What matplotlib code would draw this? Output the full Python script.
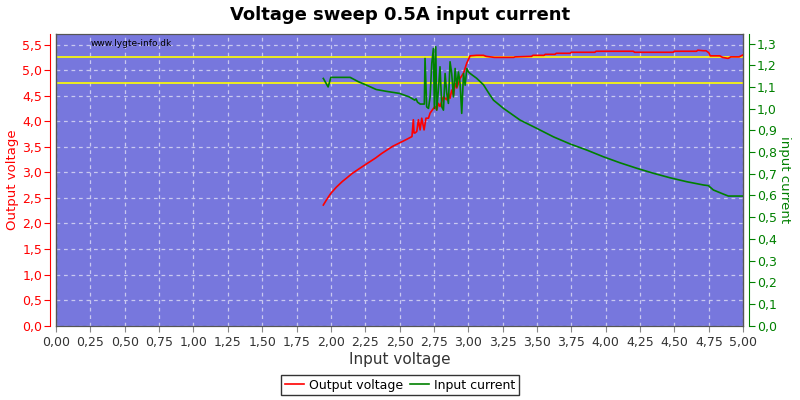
import numpy as np
import matplotlib
matplotlib.use("Agg")
import matplotlib.pyplot as plt
from matplotlib.ticker import FuncFormatter, MultipleLocator

# output voltage (left axis)
volt_x = [1.945, 1.97, 2.0, 2.04, 2.083, 2.12, 2.156, 2.2, 2.245, 2.285, 2.325, 2.37, 2.41, 2.45, 2.495, 2.54, 2.59,
          2.600, 2.605, 2.612, 2.625, 2.637, 2.649, 2.661, 2.678, 2.692, 2.710, 2.722,
          2.746, 2.758, 2.770, 2.782, 2.794, 2.819, 2.843, 2.855, 2.867, 2.879, 2.892,
          2.904, 2.916, 2.940, 2.965, 2.989, 3.013,
          3.06, 3.11, 3.13, 3.19, 3.33, 3.34, 3.46, 3.47, 3.55, 3.56, 3.63, 3.64, 3.74,
          3.75, 3.92, 3.93, 4.20, 4.21, 4.42, 4.49, 4.50, 4.66, 4.67, 4.71, 4.73, 4.75,
          4.76, 4.83, 4.85, 4.89, 4.91, 4.97, 5.0]
volt_y = [2.36, 2.47, 2.59, 2.71, 2.82, 2.90, 2.98, 3.06, 3.14, 3.21, 3.28, 3.37, 3.44, 3.51, 3.57, 3.63, 3.70,
          4.03, 3.77, 3.77, 3.80, 4.03, 3.83, 4.06, 3.83, 4.06, 4.06, 4.16,
          4.25, 4.29, 4.22, 4.35, 4.29, 4.48, 4.42, 4.55, 4.45, 4.61, 4.51,
          4.74, 4.65, 4.84, 4.94, 5.14, 5.28,
          5.29, 5.29, 5.27, 5.25, 5.25, 5.26, 5.27, 5.29, 5.29, 5.31, 5.31, 5.33, 5.33,
          5.35, 5.35, 5.37, 5.37, 5.35, 5.35, 5.35, 5.37, 5.37, 5.39, 5.38, 5.38, 5.34,
          5.28, 5.28, 5.25, 5.23, 5.26, 5.26, 5.30]

# input current (right axis)
cur_x = [1.945, 1.98, 2.0, 2.14, 2.20, 2.26, 2.33, 2.40, 2.50, 2.57, 2.61, 2.62, 2.63,
         2.65, 2.68, 2.685, 2.697, 2.710, 2.722, 2.734, 2.746, 2.753, 2.763, 2.770,
         2.782, 2.794, 2.807, 2.819, 2.831, 2.843, 2.855, 2.867, 2.879, 2.892, 2.904,
         2.916, 2.928, 2.940, 2.952, 2.965, 2.977, 2.989, 3.001, 3.013,
         3.06, 3.11, 3.15, 3.183, 3.256, 3.377, 3.498, 3.619, 3.741, 3.862, 3.983, 4.105, 4.226,
         4.347, 4.469, 4.590, 4.711, 4.747, 4.783, 4.856, 4.892, 5.0]
cur_y = [1.139, 1.100, 1.144, 1.144, 1.124, 1.108, 1.088, 1.080, 1.070, 1.054, 1.039, 1.045, 1.030,
         1.021, 1.021, 1.231, 1.008, 1.001, 1.054, 1.208, 1.277, 1.001, 1.285, 0.993,
         1.085, 1.193, 1.008, 0.993, 1.162, 1.070, 1.024, 1.216, 1.162, 1.054, 1.185,
         1.100, 1.169, 1.116, 0.978, 1.162, 1.108, 1.185, 1.169, 1.162,
         1.140, 1.110, 1.070, 1.039, 1.001, 0.947, 0.909, 0.870, 0.837, 0.809, 0.778, 0.750, 0.725,
         0.702, 0.681, 0.663, 0.648, 0.645, 0.625, 0.606, 0.597, 0.597]

limit_lines = [4.75, 5.25]


def comma(fmt):
    return FuncFormatter(lambda v, p: format(v, fmt).replace('.', ','))


fig = plt.figure(figsize=(8, 4), dpi=100)
ax = fig.add_axes([0.07, 0.186, 0.859, 0.728])
ax.set_facecolor('#7777dd')
ax2 = ax.twinx()

for y in limit_lines:
    ax.axhline(y, color='#ffff00', lw=1.2, zorder=2)
ax2.plot(cur_x, cur_y, color='#008000', lw=1.2, label='Input current')
ax.plot(volt_x, volt_y, color='#ff0000', lw=1.2, label='Output voltage', zorder=3)

ax.set_xlim(0, 5)
ax.set_ylim(0, 5.7)
ax2.set_ylim(0, 1.342)

ax.xaxis.set_major_locator(MultipleLocator(0.25))
ax.yaxis.set_major_locator(MultipleLocator(0.5))
ax2.yaxis.set_major_locator(MultipleLocator(0.1))
ax.xaxis.set_major_formatter(comma('.2f'))
ax.yaxis.set_major_formatter(comma('.1f'))
ax2.yaxis.set_major_formatter(comma('.1f'))

ax.grid(True, color='#c8c8f0', ls=(0, (3, 3)), lw=0.9)
ax.set_axisbelow(True)

ax.spines['left'].set_position(('outward', 4))
ax.spines['left'].set_color('red')
ax2.spines['left'].set_visible(False)
ax2.spines['right'].set_position(('outward', 4))
ax2.spines['right'].set_color('green')
ax.spines['right'].set_visible(False)
for s in ['top', 'bottom']:
    ax.spines[s].set_color('#555555')
    ax2.spines[s].set_color('#555555')
# frame edges of the plot area
ax.plot([0, 0], [0, 1], transform=ax.transAxes, color='#555555', lw=1, clip_on=False)
ax.plot([1, 1], [0, 1], transform=ax.transAxes, color='#555555', lw=1, clip_on=False)

ax.tick_params(axis='y', colors='red', labelsize=9, length=4, pad=2)
ax.tick_params(axis='x', colors='#888888', labelcolor='#333333', labelsize=9, length=4)
ax2.tick_params(axis='y', colors='green', labelsize=9, length=4, pad=2)

ax.set_xlabel('Input voltage', fontsize=11, color='#333333', labelpad=2)
ax.set_ylabel('Output voltage', fontsize=9.5, color='red', labelpad=2)
ax2.set_ylabel('input current', fontsize=9.5, color='green', rotation=270, labelpad=10)

fig.suptitle('Voltage sweep 0.5A input current', fontsize=13, fontweight='bold', y=0.985)
ax.text(0.05, 0.985, 'www.lygte-info.dk', transform=ax.transAxes, fontsize=6.5,
        color='black', va='top')

h1, l1 = ax.get_legend_handles_labels()
h2, l2 = ax2.get_legend_handles_labels()
leg = fig.legend(h1 + h2, l1 + l2, loc='center', bbox_to_anchor=(0.5, 0.037), ncol=2,
                 fontsize=9, frameon=True, fancybox=False, edgecolor='black',
                 handlelength=1.5, handletextpad=0.4, columnspacing=0.6,
                 borderpad=0.3)
leg.get_frame().set_linewidth(1)

fig.savefig('out.png', dpi=100)
